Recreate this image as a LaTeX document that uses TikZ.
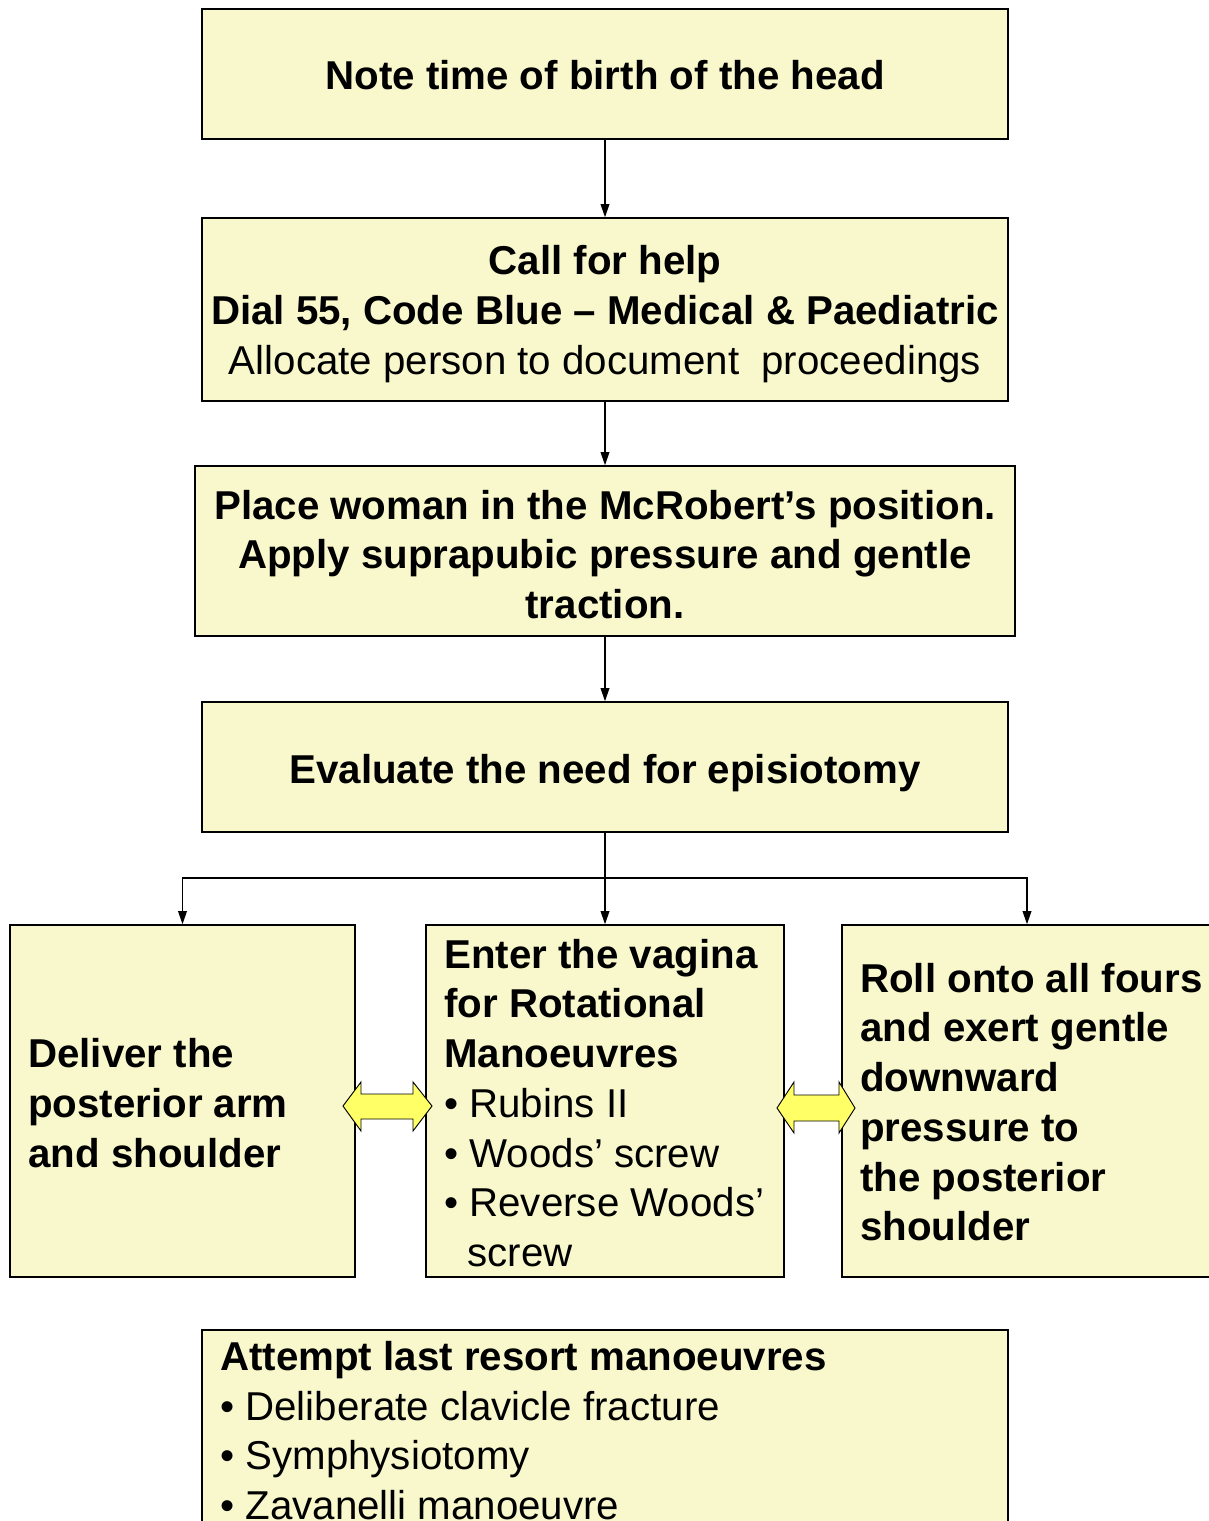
\documentclass[tikz,border=0pt]{standalone}
\usepackage{fontspec}
\setmainfont{Liberation Sans}
\usetikzlibrary{arrows.meta,fit}
\definecolor{boxfill}{HTML}{F8F8CC}
\definecolor{arrfill}{HTML}{FFFF66}
\begin{document}
\begin{tikzpicture}[x=0.75pt,y=-0.75pt,
  box/.style={draw=black, line width=1pt, fill=boxfill, inner sep=0pt},
  txt/.style={inner sep=0pt, font=\fontsize{30.2}{37.3}\selectfont\bfseries},
  conn/.style={line width=1.3pt, -{Triangle[length=10pt,width=6.5pt]}},
  dbl/.style={draw=black, fill=arrfill, line width=0.7pt, line join=miter}]
\useasboundingbox (0,0) rectangle (1208,1521);

% boxes
\node[box, fit={(202,9)(1008,139)}] (n1) {};
\node[box, fit={(202,218)(1008,401)}] (n2) {};
\node[box, fit={(195,466)(1015,636)}] (n3) {};
\node[box, fit={(202,702)(1008,832)}] (n4) {};
\node[box, fit={(10,925)(355,1277)}] (n5) {};
\node[box, fit={(426,925)(784,1277)}] (n6) {};
\node[box, fit={(842,925)(1212,1277)}] (n7) {};
\node[box, fit={(202,1330)(1008,1545)}] (n8) {};

% texts
\node[txt, align=center, yshift=-1pt] (t1) at (n1.center) {Note time of birth of the head};
\node[txt, align=center, yshift=-3.5pt] (t2) at (n2.center) {Call for help\\Dial 55, Code Blue -- Medical \& Paediatric\\\mdseries Allocate person to document \ proceedings};
\node[txt, align=center, yshift=-2.5pt] (t3) at (n3.center) {Place woman in the McRobert’s position.\\Apply suprapubic pressure and gentle\\traction.};
\node[txt, align=center, yshift=-4.5pt] (t4) at (n4.center) {Evaluate the need for episiotomy};
\node[txt, align=left, anchor=west] (t5) at (28,1103) {Deliver the\\posterior arm\\and shoulder};
\node[txt, align=left, anchor=west] (t6) at (444,1103) {Enter the vagina\\for Rotational\\Manoeuvres\\\mdseries\textbullet\ Rubins II\\\mdseries\textbullet\ Woods’ screw\\\mdseries\textbullet\ Reverse Woods’\\\mdseries\hspace*{17.3pt}screw};
\node[txt, align=left, anchor=west] (t7) at (860,1102) {Roll onto all fours\\and exert gentle\\downward\\pressure to\\the posterior\\shoulder};
\node[txt, align=left, anchor=north west] (t8) at (220,1341) {Attempt last resort manoeuvres\\\mdseries\textbullet\ Deliberate clavicle fracture\\\mdseries\textbullet\ Symphysiotomy\\\mdseries\textbullet\ Zavanelli manoeuvre};

% connectors
\draw[conn] (n1.south) -- (n2.north);
\draw[conn] (n2.south) -- (n3.north);
\draw[conn] (n3.south) -- (n4.north);
\coordinate (j) at (605,878);
\draw[line width=1.3pt] (n4.south) -- (j);
\draw[conn] (j) -| (n5.north);
\draw[conn] (j) -- (n6.north);
\draw[conn] (j) -| (n7.north);

% double arrows
\draw[dbl] (343,1106) -- (361,1082) -- (361,1094) -- (413,1094) -- (413,1082) -- (432,1106)
  -- (413,1131) -- (413,1119) -- (361,1119) -- (361,1131) -- cycle;
\draw[dbl] (777,1108) -- (794,1082) -- (794,1095) -- (839,1095) -- (839,1082) -- (855,1108)
  -- (839,1133) -- (839,1121) -- (794,1121) -- (794,1133) -- cycle;
\end{tikzpicture}
\end{document}
